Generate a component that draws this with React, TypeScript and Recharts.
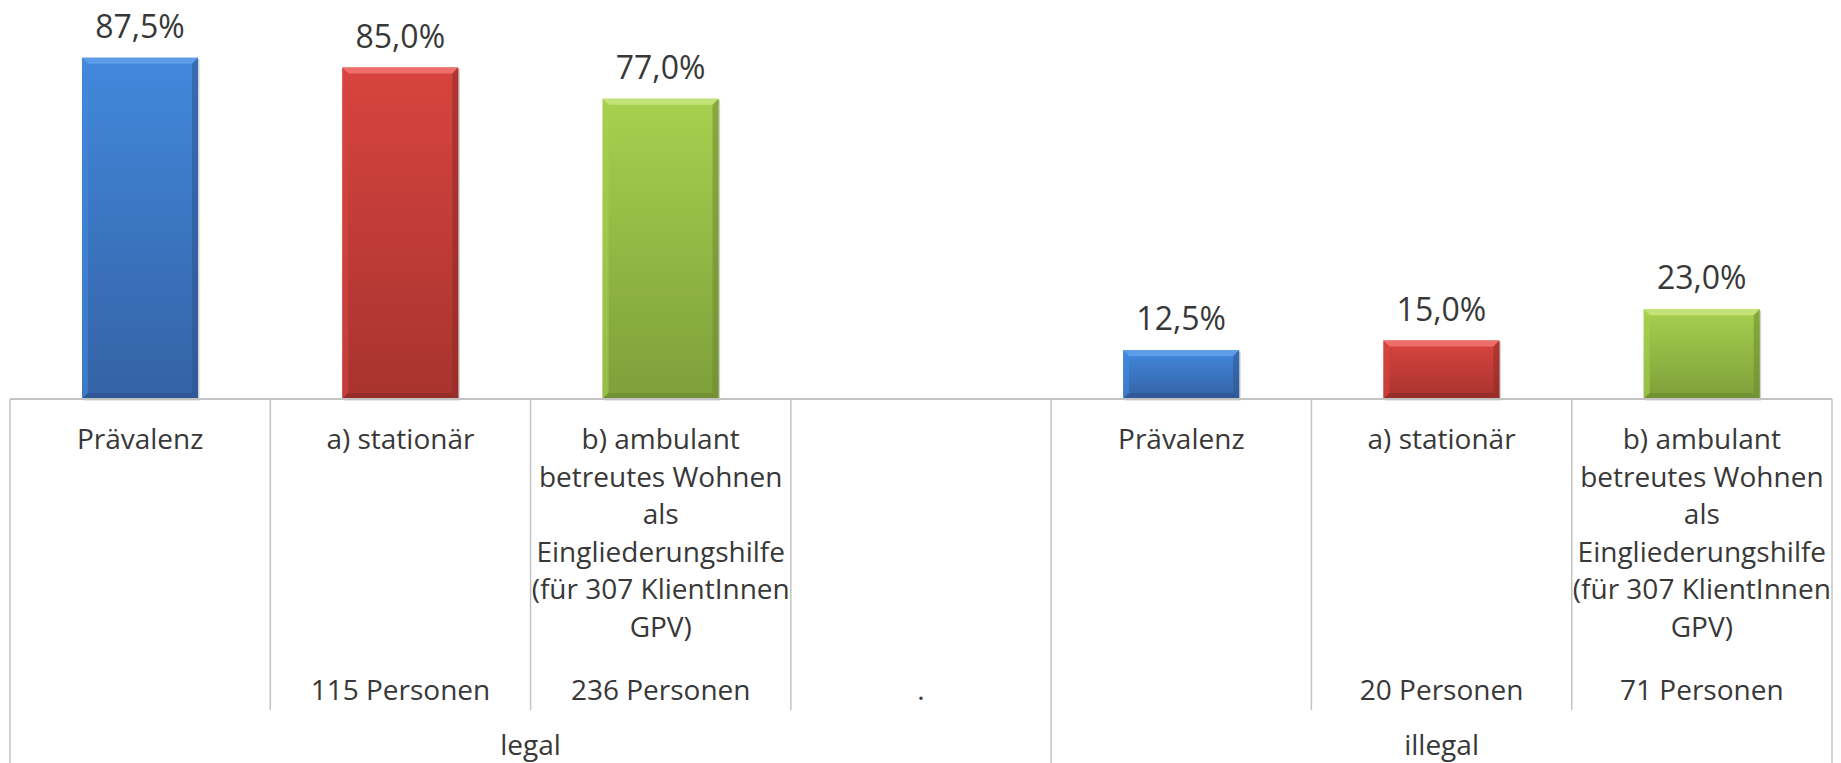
import React from "react";
import { BarChart, Bar, XAxis, YAxis, LabelList } from "recharts";

// Values (percent of persons)
const categoryLabels = [
  ["Prävalenz"],
  ["a) stationär"],
  ["b) ambulant", "betreutes Wohnen", "als", "Eingliederungshilfe", "(für 307 KlientInnen", "GPV)"],
  [],
  ["Prävalenz"],
  ["a) stationär"],
  ["b) ambulant", "betreutes Wohnen", "als", "Eingliederungshilfe", "(für 307 KlientInnen", "GPV)"],
];
const personLabels = ["", "115 Personen", "236 Personen", ".", "", "20 Personen", "71 Personen"];
const shares = [87.5, 85.0, 77.0, null, 12.5, 15.0, 23.0];
const groupNames = ["legal", "illegal"];
const groupSizes = [4, 3];

const CHART_W = 1841;
const CHART_H = 763;
const MARGIN = { top: 9, right: 9, bottom: 0, left: 10 };
const AXIS_H = 364;
const FONT = "'Open Sans', 'Liberation Sans', sans-serif";
const TEXT = "#383838";
const GRID = "#c3c3c3";

// blue / red / green, by position inside a group
const TONES = [
  { top: "#5c9ce9", light: "#4288dc", dark: "#3462a5", edge: "#2d5690" },
  { top: "#ee6e6b", light: "#d8443f", dark: "#a8332f", edge: "#8f2926" },
  { top: "#c3e37a", light: "#a7d04f", dark: "#7e9f3a", edge: "#6c8a30" },
];

const groupStart: number[] = [];
groupSizes.reduce((acc, n) => {
  groupStart.push(acc);
  return acc + n;
}, 0);

const posInGroup = (i: number) => {
  let g = 0;
  while (g + 1 < groupStart.length && i >= groupStart[g + 1]) g++;
  return i - groupStart[g];
};

const data = shares.map((v, i) => ({
  key: `c${i}`,
  idx: i,
  share: v,
}));

const halfBand = (CHART_W - MARGIN.left - MARGIN.right) / shares.length / 2;

const fmt = (v: any) => (v == null ? "" : `${Number(v).toFixed(1).replace(".", ",")}%`);

function BevelBar(props: any) {
  const { x, y, width: w, height: h, payload } = props;
  if (!h || h <= 0) return null;
  const i = payload?.idx ?? props.index;
  const t = TONES[posInGroup(i) % TONES.length];
  const b = Math.min(6, w / 4, h / 4);
  const id = `bar-grad-${i}`;
  return (
    <g>
      <defs>
        <linearGradient id={id} x1="0" y1="0" x2="0" y2="1">
          <stop offset="0%" stopColor={t.light} />
          <stop offset="100%" stopColor={t.dark} />
        </linearGradient>
      </defs>
      <rect x={x + 1.5} y={y + 1.5} width={w} height={h} fill="rgba(0,0,0,0.18)" />
      <rect x={x} y={y} width={w} height={h} fill={`url(#${id})`} />
      <polygon
        points={`${x},${y} ${x + w},${y} ${x + w - b},${y + b} ${x + b},${y + b}`}
        fill={t.top}
      />
      <polygon
        points={`${x},${y} ${x + b},${y + b} ${x + b},${y + h - b} ${x},${y + h}`}
        fill={t.light}
        opacity={0.6}
      />
      <polygon
        points={`${x + w},${y} ${x + w - b},${y + b} ${x + w - b},${y + h - b} ${x + w},${y + h}`}
        fill={t.edge}
        opacity={0.55}
      />
      <polygon
        points={`${x},${y + h} ${x + b},${y + h - b} ${x + w - b},${y + h - b} ${x + w},${y + h}`}
        fill={t.edge}
        opacity={0.7}
      />
    </g>
  );
}

function TableTick(props: any) {
  const { x, y, payload } = props;
  const i = payload.index;
  const left = x - halfBand;
  const right = x + halfBand;
  const bottom = y + AXIS_H;
  const isGroupStart = groupStart.includes(i);
  const isLast = i === shares.length - 1;
  const lines = categoryLabels[i] || [];
  const g = groupStart.indexOf(i);
  return (
    <g fontFamily={FONT} fill={TEXT} fontSize={28} textAnchor="middle">
      <line x1={left} y1={y} x2={left} y2={isGroupStart ? bottom : y + 311} stroke={GRID} strokeWidth={1.5} />
      {isLast && <line x1={right} y1={y} x2={right} y2={bottom} stroke={GRID} strokeWidth={1.5} />}
      {lines.map((s, k) => (
        <text key={k} x={x} y={y + 50 + k * 37.6}>
          {s}
        </text>
      ))}
      {personLabels[i] && (
        <text x={x} y={y + 301}>
          {personLabels[i]}
        </text>
      )}
      {g >= 0 && (
        <text x={left + groupSizes[g] * halfBand} y={y + 356}>
          {groupNames[g]}
        </text>
      )}
    </g>
  );
}

export default function App() {
  return (
    <div style={{ position: "absolute", left: 0, top: 0, background: "#fff" }}>
      <BarChart width={CHART_W} height={CHART_H} data={data} margin={MARGIN}>
        <XAxis
          dataKey="key"
          height={AXIS_H}
          interval={0}
          tickLine={false}
          tickSize={0}
          tickMargin={0}
          axisLine={{ stroke: GRID, strokeWidth: 2 }}
          tick={<TableTick />}
        />
        <YAxis hide domain={[0, 100]} />
        <Bar dataKey="share" barSize={116} shape={<BevelBar />} isAnimationActive={false}>
          <LabelList
            dataKey="share"
            position="top"
            offset={20}
            formatter={fmt}
            fill={TEXT}
            fontSize={32}
            fontFamily={FONT}
          />
        </Bar>
      </BarChart>
    </div>
  );
}
